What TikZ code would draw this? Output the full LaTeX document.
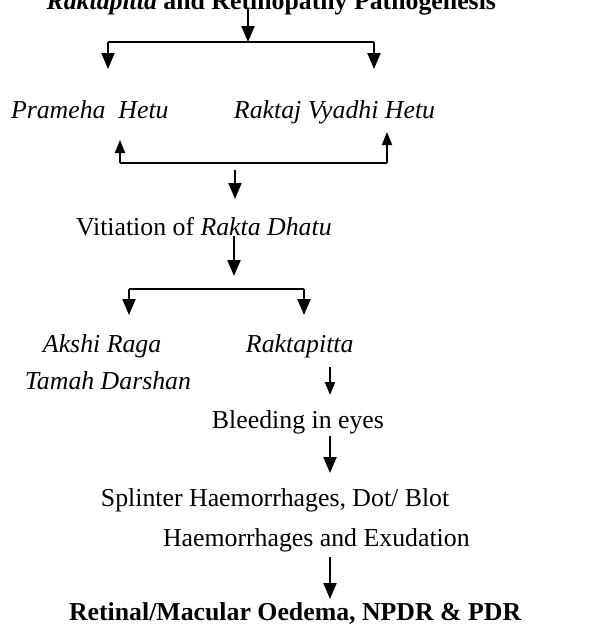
\documentclass[tikz,border=0pt]{standalone}
\usepackage{fontspec}
\setmainfont{Liberation Serif}
\usetikzlibrary{arrows.meta}
\tikzset{
  txt/.style={inner sep=0pt, anchor=base west, font=\fontsize{12.9}{15}\selectfont},
  big/.style={-{Triangle[width=6.5pt,length=8pt]}},
  small/.style={-{Triangle[width=5pt,length=6.5pt]}}
}
\begin{document}
\begin{tikzpicture}[x=0.5pt, y=-0.5pt, line width=1pt]
  \useasboundingbox (0,0) rectangle (593,629);
  \clip (0,0) rectangle (593,629);
  \node[txt, anchor=base east] (title) at (497,9) {\bfseries\itshape Raktapitta\upshape{} and Retinopathy Pathogenesis};
  \node[txt] (prameha) at (10,118) {\itshape Prameha\ \ Hetu};
  \node[txt] (raktaj) at (233,118) {\itshape Raktaj Vyadhi Hetu};
  \node[txt] (vitiation) at (75,235) {Vitiation of \textit{Rakta Dhatu}};
  \node[txt] (akshi) at (42,352) {\itshape Akshi Raga};
  \node[txt] (tamah) at (24,389) {\itshape Tamah Darshan};
  \node[txt] (raktapitta) at (245,352) {\itshape Raktapitta};
  \node[txt] (bleeding) at (211,428) {Bleeding in eyes};
  \node[txt] (splinter) at (100,506) {Splinter Haemorrhages, Dot/ Blot};
  \node[txt] (haemo) at (162,546) {Haemorrhages and Exudation};
  \node[txt] (retinal) at (68,620) {\bfseries Retinal/Macular Oedema, NPDR \& PDR};

  \coordinate (top) at (248,9);
  \coordinate (split) at (248,42);
  \coordinate (splitL) at (108,42);
  \coordinate (splitR) at (374,42);
  \coordinate (hetuL) at (108,69);
  \coordinate (hetuR) at (374,69);
  \draw[big] (top) -- (split);
  \draw (splitL) -- (splitR);
  \draw[big] (splitL) -- (hetuL);
  \draw[big] (splitR) -- (hetuR);

  \coordinate (joinL) at (120,163);
  \coordinate (joinR) at (387,163);
  \coordinate (upL) at (120,140);
  \coordinate (upR) at (387,132);
  \draw[small] (joinL) -- (upL);
  \draw[small] (joinR) -- (upR);
  \draw (joinL) -- (joinR);
  \coordinate (vitTop) at (235,170);
  \coordinate (vitTip) at (235,199);
  \draw[big] (vitTop) -- (vitTip);

  \coordinate (vitBot) at (234,236);
  \coordinate (forkTip) at (234,276);
  \coordinate (forkL) at (129,289);
  \coordinate (forkR) at (304,289);
  \coordinate (akshiTip) at (129,315);
  \coordinate (raktTip) at (304,315);
  \draw[big] (vitBot) -- (forkTip);
  \draw (forkL) -- (forkR);
  \draw[big] (forkL) -- (akshiTip);
  \draw[big] (forkR) -- (raktTip);

  \coordinate (r1) at (330,367);
  \coordinate (r2) at (330,395);
  \coordinate (b1) at (330,436);
  \coordinate (b2) at (330,473);
  \coordinate (h1) at (330,557);
  \coordinate (h2) at (330,599);
  \draw[small] (r1) -- (r2);
  \draw[big] (b1) -- (b2);
  \draw[big] (h1) -- (h2);
\end{tikzpicture}
\end{document}
